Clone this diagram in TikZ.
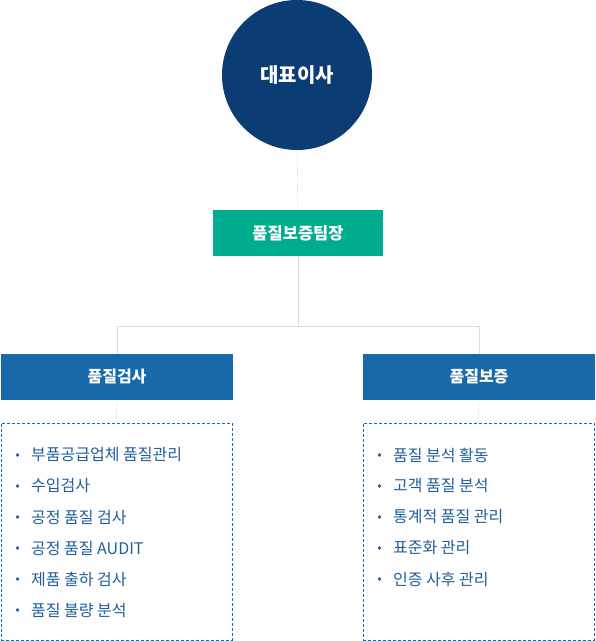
\documentclass[tikz,border=0pt]{standalone}
\usepackage{fontspec}
\setmainfont{Noto Sans CJK KR}
\usepackage{tikz}

\definecolor{ceoblue}{HTML}{0B3C73}
\definecolor{teamgreen}{HTML}{00AC8E}
\definecolor{partblue}{HTML}{1769AA}
\definecolor{itemblue}{HTML}{1F5E9E}
\definecolor{linegray}{HTML}{DDDDDD}

\tikzset{
	headbox/.style = {fill=partblue, text=white, font=\fontsize{16}{19}\selectfont\bfseries, minimum width=232, minimum height=46, inner sep=0},
	listbox/.style = {draw=partblue, dash pattern=on 3pt off 2pt, minimum width=231, minimum height=217, inner sep=0},
	item/.style = {anchor = west, text=itemblue, font=\fontsize{16}{18}\selectfont, inner sep=0}
}

\begin{document}
\begin{tikzpicture}[x=1pt, y=-1pt]
				\useasboundingbox (0,0) rectangle (596,641);
				\node[circle, fill=ceoblue, text=white, minimum size=150, inner sep=0, font=\fontsize{20}{24}\selectfont\bfseries] (ceo) at (297,75) {대표이사};
				\node[fill=teamgreen, text=white, minimum width=170, minimum height=46, inner sep=0, font=\fontsize{16.5}{19}\selectfont\bfseries] (team) at (298,233) {품질보증팀장};
				\node[headbox] (insp) at (117,377) {품질검사};
				\node[headbox] (assur) at (479,377) {품질보증};
				\node[listbox] (insplist) at (116.5,531.5) {};
				\node[listbox] (assurlist) at (478.5,531.5) {};
				% connectors
				\draw[linegray] (ceo.south) -- (team.north);
				\draw[linegray] (team.south) --++ (0,70) -| (insp.north);
				\draw[linegray] (team.south) --++ (0,70) -| (assur.north);
				\draw[linegray] (insp.south) -- (insplist.north);
				\draw[linegray] (assur.south) -- (assurlist.north);
				% items
				\foreach \t [count=\i] in {부품공급업체 품질관리, 수입검사, 공정 품질 검사, 공정 품질 AUDIT, 제품 출하 검사, 품질 불량 분석}
					\node[item] (inspitem\i) at (31,424+31*\i) {\t};
				\foreach \i in {1,...,6}
					\fill[itemblue] (17.5,424+31*\i) circle (1.8);
				\foreach \t [count=\i] in {품질 분석 활동, 고객 품질 분석, 통계적 품질 관리, 표준화 관리, 인증 사후 관리}
					\node[item] (assuritem\i) at (393,424+31*\i) {\t};
				\foreach \i in {1,...,5}
					\fill[itemblue] (379.5,424+31*\i) circle (1.8);
			\end{tikzpicture}
\end{document}
